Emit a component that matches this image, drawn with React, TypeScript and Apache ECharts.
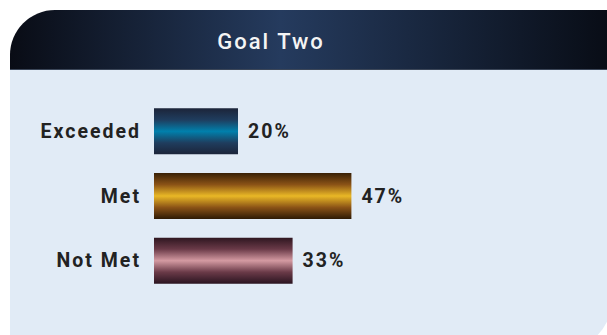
import React, { useEffect, useRef } from "react";
import * as echarts from "echarts";

const categories = ["Exceeded", "Met", "Not Met"];
const values = [20, 47, 33];
const titleText = "Goal Two";
const gradients = [
  ["#1c2439", "#1f3d5e", "#0080ac", "#1f3d5e", "#1c2439"],
  ["#382006", "#8a5216", "#e9b826", "#8a5216", "#2e1a04"],
  ["#2e1620", "#6a3a48", "#d49aa2", "#6a3a48", "#2a1420"],
];

export default function App() {
  const ref = useRef<HTMLDivElement>(null);
  useEffect(() => {
    if (!ref.current) return;
    const chart = echarts.init(ref.current, null, { renderer: "svg" });
    const font = "Roboto, 'Noto Sans', sans-serif";
    const grad = (c: string[]) =>
      new echarts.graphic.LinearGradient(0, 0, 0, 1, [
        { offset: 0, color: c[0] },
        { offset: 0.25, color: c[1] },
        { offset: 0.5, color: c[2] },
        { offset: 0.75, color: c[3] },
        { offset: 1, color: c[4] },
      ]);
    chart.setOption({
      animation: false,
      graphic: [
        {
          type: "rect",
          z: -10,
          shape: { x: 10, y: 69, width: 602, height: 281, r: [0, 0, 50, 0] },
          style: { fill: "#e1ebf6" },
        },
        {
          type: "rect",
          z: -9,
          shape: { x: 10, y: 10, width: 602, height: 60, r: [45, 0, 0, 0] },
          style: {
            fill: new echarts.graphic.LinearGradient(0, 0, 1, 0, [
              { offset: 0, color: "#090c15" },
              { offset: 0.45, color: "#253b5e" },
              { offset: 1, color: "#080c15" },
            ]),
          },
        },
        {
          type: "line",
          z: -8,
          shape: { x1: 10, y1: 69.5, x2: 612, y2: 69.5 },
          style: { stroke: "#3b4658", lineWidth: 1 },
        },
        {
          type: "text",
          z: 10,
          x: 271,
          y: 41,
          style: {
            text: titleText,
            fill: "#f4f4f4",
            font: `500 22px ${font}`,
            textAlign: "center",
            textVerticalAlign: "middle",
          },
        },
      ],
      grid: { left: 154, right: 33, top: 99, height: 194 },
      xAxis: {
        type: "value",
        min: 0,
        max: 100,
        show: false,
      },
      yAxis: {
        type: "category",
        data: categories,
        inverse: true,
        axisLine: { show: false },
        axisTick: { show: false },
        splitLine: { show: false },
        axisLabel: {
          margin: 13,
          color: "#222",
          fontSize: 19.5,
          fontWeight: "bold",
          fontFamily: font,
        },
      },
      series: [
        {
          type: "bar",
          barWidth: 46,
          data: values.map((v, i) => ({
            value: v,
            itemStyle: { color: grad(gradients[i]) },
          })),
          label: {
            show: true,
            position: "right",
            distance: 10,
            formatter: "{c}%",
            color: "#222",
            fontSize: 19.5,
            fontWeight: "bold",
            fontFamily: font,
          },
        },
      ],
    });
    return () => chart.dispose();
  }, []);
  return (
    <div
      ref={ref}
      style={{
        position: "fixed",
        left: 0,
        top: 0,
        width: 607,
        height: 335,
        letterSpacing: "2px",
        background: "#ffffff",
      }}
    />
  );
}
